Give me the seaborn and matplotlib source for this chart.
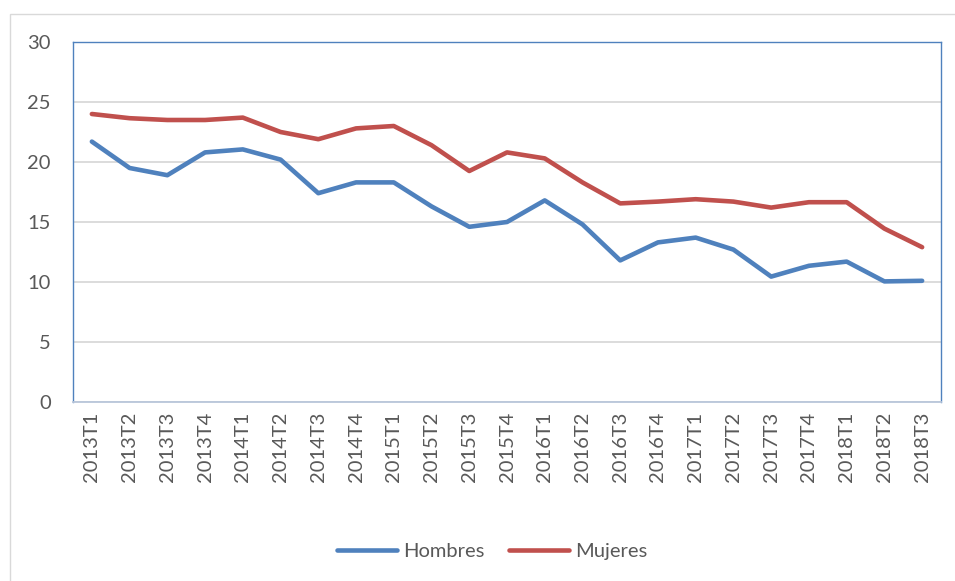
import pandas as pd
import seaborn as sns
import matplotlib.pyplot as plt
from matplotlib.patches import Rectangle

# quarters shown on the x axis
quarters = [
    "2013T1", "2013T2", "2013T3", "2013T4",
    "2014T1", "2014T2", "2014T3", "2014T4",
    "2015T1", "2015T2", "2015T3", "2015T4",
    "2016T1", "2016T2", "2016T3", "2016T4",
    "2017T1", "2017T2", "2017T3", "2017T4",
    "2018T1", "2018T2", "2018T3",
]

# values
hombres = [21.7, 19.5, 18.9, 20.8, 21.05, 20.2, 17.4, 18.3, 18.3, 16.3, 14.6, 15.0,
           16.8, 14.8, 11.8, 13.3, 13.7, 12.7, 10.45, 11.35, 11.7, 10.05, 10.1]
mujeres = [24.0, 23.65, 23.5, 23.5, 23.7, 22.5, 21.9, 22.8, 23.0, 21.4, 19.25, 20.8,
           20.3, 18.3, 16.55, 16.7, 16.9, 16.7, 16.2, 16.65, 16.65, 14.45, 12.9]

y_ticks = [0, 5, 10, 15, 20, 25, 30]

df = pd.DataFrame({
    "trimestre": quarters * 2,
    "valor": hombres + mujeres,
    "serie": ["Hombres"] * len(quarters) + ["Mujeres"] * len(quarters),
})

sns.set_style("white")
plt.rcParams["font.family"] = ["Lato", "DejaVu Sans"]

fig = plt.figure(figsize=(9.55, 5.81), dpi=100)
ax = fig.add_axes([73 / 955, 1 - 402 / 581, 868 / 955, 360 / 581])

palette = {"Hombres": "#4F81BD", "Mujeres": "#C0504D"}
sns.lineplot(data=df, x="trimestre", y="valor", hue="serie", palette=palette,
             linewidth=3.3, ax=ax, sort=False, legend=True)

ax.set_xlim(-0.5, len(quarters) - 0.5)
ax.set_ylim(0, 30)
ax.set_yticks(y_ticks)
ax.yaxis.grid(True, color="#D9D9D9", linewidth=1.3)
ax.set_axisbelow(True)
ax.set_xlabel("")
ax.set_ylabel("")

ax.tick_params(axis="y", length=0, pad=16, labelsize=14.5, labelcolor="#595959")
ax.tick_params(axis="x", length=0, pad=7, labelsize=14.5, labelcolor="#595959",
               labelrotation=90)

for side in ["left", "top", "right"]:
    ax.spines[side].set_color("#4F81BD")
    ax.spines[side].set_linewidth(1.0)
ax.spines["bottom"].set_color("#B9C6DA")
ax.spines["bottom"].set_linewidth(1.3)

# move legend below the plot like the original
handles, labels = ax.get_legend_handles_labels()
ax.get_legend().remove()
fig.legend(handles, labels, loc="center", bbox_to_anchor=(492 / 955, 1 - 551 / 581),
           ncol=2, frameon=False, fontsize=14.5, handlelength=3.0,
           columnspacing=1.2, handletextpad=0.3, labelcolor="#595959")

# light outer chart frame
fig.patches.append(Rectangle((10 / 955, -0.05), 1.0, 1 - 14 / 581 + 0.05,
                             transform=fig.transFigure, fill=False,
                             edgecolor="#D9D9D9", linewidth=1.0))

fig.savefig("out.png", dpi=100)
